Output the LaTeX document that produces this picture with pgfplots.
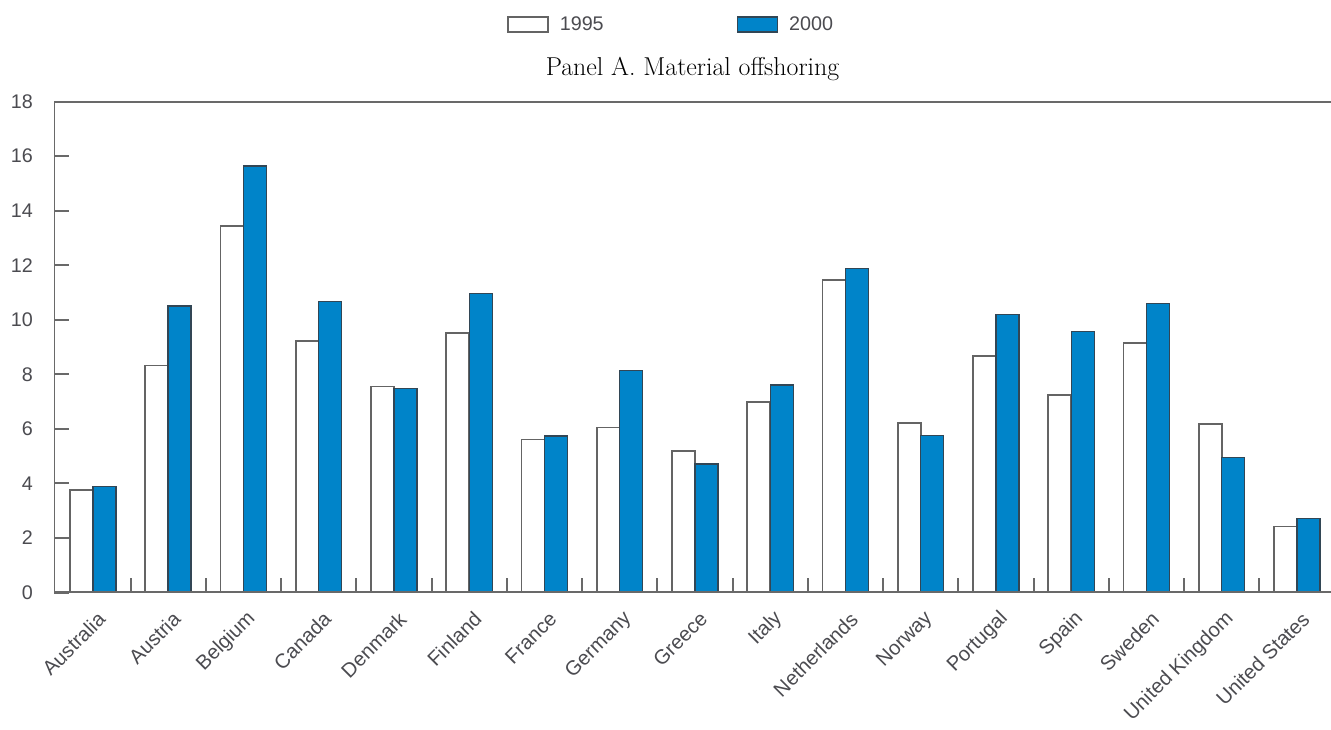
\documentclass[border=0pt]{standalone}
\usepackage{pgfplots}
\pgfplotsset{compat=1.18}
\usepackage{pgfplotstable}
\usepackage{fontspec}
\newfontfamily\lab{Liberation Sans}
\definecolor{barblue}{RGB}{0,132,201}
\definecolor{axisgray}{RGB}{105,105,105}
\definecolor{labgray}{RGB}{75,75,80}
\definecolor{edgegray}{RGB}{100,100,100}
\definecolor{edgeblue}{RGB}{50,70,85}

\pgfplotstableread{
x y95 y00
0 3.76 3.88
1 8.32 10.50
2 13.43 15.63
3 9.22 10.66
4 7.55 7.48
5 9.52 10.97
6 5.61 5.74
7 6.05 8.13
8 5.19 4.71
9 6.99 7.61
10 11.46 11.88
11 6.22 5.75
12 8.67 10.20
13 7.24 9.56
14 9.14 10.59
15 6.18 4.95
16 2.42 2.71
}\datatable

\begin{document}
\begin{tikzpicture}
\path[use as bounding box] (0,0) rectangle (998.25pt,-546.75pt);
\begin{axis}[
  at={(40.5pt,-76.125pt)}, anchor=north west,
  scale only axis, width=957.75pt, height=368.25pt,
  xmin=-0.518, xmax=16.452, ymin=0, ymax=18,
  ybar=0pt, bar width=17.25pt,
  axis line style={draw=none},
  tick pos=left, tick align=inside,
  major tick length=11.25pt,
  /pgf/number format/assume math mode=true,
  ytick={0,2,...,18},
  ytick style={draw=axisgray, line width=1.5pt},
  xtick={0,...,16},
  xticklabels={Australia,Austria,Belgium,Canada,Denmark,Finland,France,Germany,Greece,Italy,Netherlands,Norway,Portugal,Spain,Sweden,United Kingdom,United States},
  xtick style={draw=none},
  extra x ticks={0.5,1.5,...,15.5},
  extra x tick labels={},
  extra x tick style={xtick style={draw=axisgray, line width=1.5pt}},
  x tick label style={font=\lab\fontsize{15.2}{18}\selectfont, text=labgray, xshift=6.6pt, yshift=-17.3pt, rotate=45, anchor=east, inner sep=0pt},
  y tick label style={font=\lab\fontsize{14.8}{17}\selectfont, text=labgray, anchor=east, inner sep=0pt, xshift=-15.75pt},
  title={Panel A. Material offshoring},
  title style={font=\fontsize{19.4}{22}\selectfont, text=black, at={(0.5,1)}, anchor=base, yshift=13.15pt},
  legend columns=2,
  legend style={at={(0.3547,1.1568)}, anchor=west, draw=none, fill=none, inner sep=0pt,
    font=\lab\fontsize{14.8}{17}\selectfont, text=labgray, nodes={inner sep=0pt},
    /tikz/every odd column/.append style={column sep=8.25pt},
    /tikz/every even column/.append style={column sep=99.75pt}},
  legend image code/.code={\draw[#1] (0pt,-5.6pt) rectangle (30pt,5.6pt);},
]
\addplot[fill=white, draw=edgegray, line width=1.2pt] table[x=x, y=y95] {\datatable};
\addlegendentry{1995}
\addplot[fill=barblue, draw=edgeblue, line width=1.1pt] table[x=x, y=y00] {\datatable};
\addlegendentry{2000}
\draw[axisgray, line width=2pt] (rel axis cs:1,1) -- (rel axis cs:0,1) -- (rel axis cs:0,0) -- (rel axis cs:1,0);
\end{axis}
\end{tikzpicture}
\end{document}
